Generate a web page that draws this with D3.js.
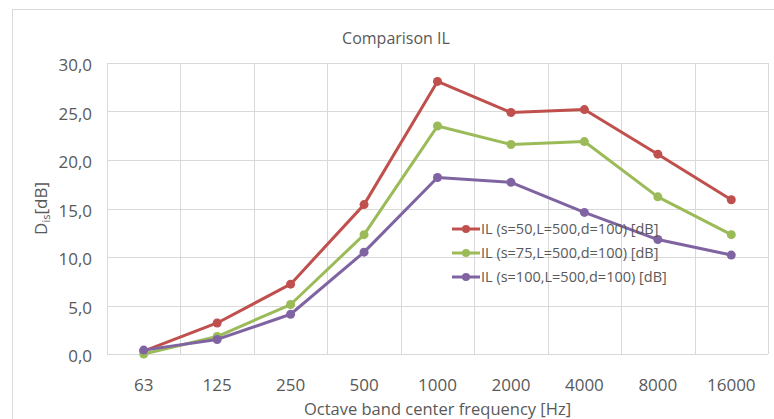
<!DOCTYPE html>
<html><head><meta charset="utf-8">
<script src="https://cdn.jsdelivr.net/npm/d3@7"></script>
<style>
html,body{margin:0;padding:0;background:#fff;}
text{font-family:"Open Sans","Noto Sans",sans-serif;fill:#595959;}
</style></head>
<body>
<svg id="c" width="774" height="419"></svg>
<script>
const categories = ["63","125","250","500","1000","2000","4000","8000","16000"];
const seriesNames = ["IL (s=50,L=500,d=100) [dB]","IL (s=75,L=500,d=100) [dB]","IL (s=100,L=500,d=100) [dB]"];
const s50  = [0.3, 3.2, 7.2, 15.4, 28.1, 24.9, 25.2, 20.6, 15.9];
const s75  = [0.0, 1.8, 5.1, 12.3, 23.5, 21.6, 21.9, 16.2, 12.3];
const s100 = [0.4, 1.5, 4.1, 10.5, 18.2, 17.7, 14.6, 11.8, 10.2];
const colors = ["#C0504D","#9BBB59","#8064A2"];
const yTicks = [0,5,10,15,20,25,30];
const title = "Comparison IL";
const xTitle = "Octave band center frequency [Hz]";

const svg = d3.select("#c");
// outer chart border (cropped on right/bottom)
svg.append("rect").attr("x",12.5).attr("y",9.5).attr("width",800).attr("height",450)
  .attr("fill","none").attr("stroke","#D9D9D9").attr("stroke-width",1);

const L=107, R=768, T=63, B=354;
const x = d3.scaleBand().domain(categories).range([L,R]);
const y = d3.scaleLinear().domain([0,30]).range([B,T]);

const g = svg.append("g");
// horizontal grid
g.selectAll(".hg").data(yTicks).join("line")
  .attr("x1",L).attr("x2",R).attr("y1",d=>Math.round(y(d))+0.5).attr("y2",d=>Math.round(y(d))+0.5)
  .attr("stroke","#D9D9D9").attr("stroke-width",1);
// vertical grid
const vx = categories.map(c=>x(c)).concat([R]);
g.selectAll(".vg").data(vx).join("line")
  .attr("x1",d=>Math.round(d)+0.5).attr("x2",d=>Math.round(d)+0.5).attr("y1",T).attr("y2",B)
  .attr("stroke","#D9D9D9").attr("stroke-width",1);

// y axis labels
const yAxis = d3.axisLeft(y).tickValues(yTicks).tickSize(0).tickPadding(15)
  .tickFormat(d=>d3.format(".1f")(d).replace(".",","));
const ya = svg.append("g").attr("transform",`translate(${L},0)`).call(yAxis);
ya.select(".domain").remove();
ya.selectAll("text").attr("font-size",17).attr("dy","0.45em").style("fill","#595959").style("font-family","'Open Sans',sans-serif");

// x axis labels
const xAxis = d3.axisBottom(x).tickSize(0).tickPadding(0);
const xa = svg.append("g").attr("transform",`translate(0,${B})`).call(xAxis);
xa.select(".domain").remove();
xa.selectAll("text").attr("font-size",17).attr("y",37).attr("dy",0).style("fill","#595959").style("font-family","'Open Sans',sans-serif");

// titles
svg.append("text").attr("x",396).attr("y",44).attr("text-anchor","middle").attr("font-size",16).text(title);
svg.append("text").attr("x",(L+R)/2).attr("y",415).attr("text-anchor","middle").attr("font-size",16.5).text(xTitle);
const yt = svg.append("text").attr("transform",`translate(47,${(T+B)/2}) rotate(-90)`)
  .attr("text-anchor","middle").attr("font-size",17);
yt.append("tspan").text("D");
yt.append("tspan").attr("font-size",11).attr("dy",3).text("is");
yt.append("tspan").attr("dy",-3).text("[dB]");

// series
const data = [s50,s75,s100];
const line = d3.line().x((d,i)=>x(categories[i])+x.bandwidth()/2).y(d=>y(d));
data.forEach((s,k)=>{
  svg.append("path").datum(s).attr("d",line).attr("fill","none")
    .attr("stroke",colors[k]).attr("stroke-width",3).attr("stroke-linejoin","round");
  svg.selectAll(".m"+k).data(s).join("circle")
    .attr("cx",(d,i)=>x(categories[i])+x.bandwidth()/2).attr("cy",d=>y(d)).attr("r",4.5)
    .attr("fill",colors[k]);
});

// legend
const lg = svg.append("g").attr("transform","translate(452,229)");
seriesNames.forEach((n,k)=>{
  const r = lg.append("g").attr("transform",`translate(0,${k*24})`);
  r.append("line").attr("x1",0).attr("x2",28).attr("y1",0).attr("y2",0).attr("stroke",colors[k]).attr("stroke-width",3);
  r.append("circle").attr("cx",14).attr("cy",0).attr("r",4).attr("fill",colors[k]);
  r.append("text").attr("x",29).attr("y",5).attr("font-size",14.5).text(n);
});
</script>
</body></html>
